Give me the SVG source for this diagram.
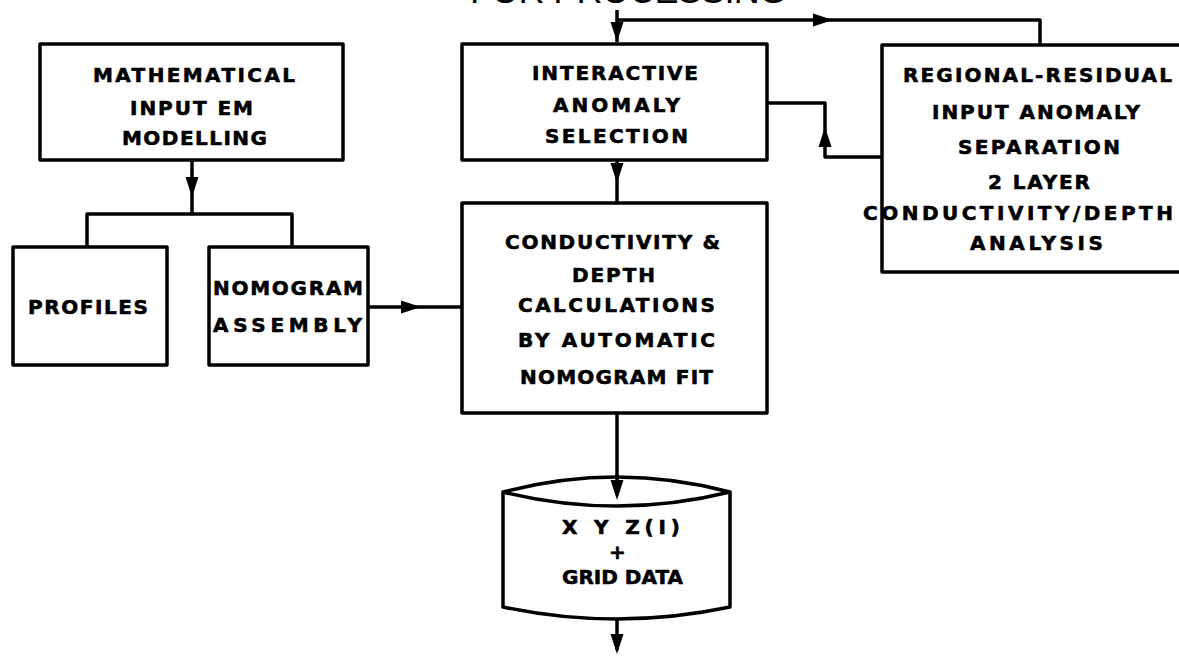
<svg xmlns="http://www.w3.org/2000/svg" width="1179" height="657" viewBox="0 0 1179 657">
  <style>
    .box { fill: #fff; stroke: #000; stroke-width: 3.5; stroke-linejoin: round; }
    .wire { fill: none; stroke: #000; stroke-width: 3.5; stroke-linejoin: round; stroke-linecap: butt; }
    .lbl { font-family: "DejaVu Sans", "Liberation Sans", sans-serif; font-weight: bold; font-size: 20px; fill: #000; stroke: #000; stroke-width: 0.6; }
    .head { font-family: "Liberation Sans", Arial, sans-serif; font-size: 36px; fill: #000; }
  </style>
  <defs>
    <!-- filled arrowhead, tip at origin, pointing down -->
    <path id="ah" d="M0,0 L-6.5,-20 L6.5,-20 Z" fill="#000"/>
  </defs>

  <rect width="1179" height="657" fill="#fff"/>

  <!-- heading, mostly above the top edge -->
  <text class="head" x="470" y="3" textLength="317" lengthAdjust="spacing">FOR PROCESSING</text>

  <g id="modelling">
    <rect class="box" x="40" y="44" width="303" height="116"/>
    <text class="lbl" x="93" y="82" textLength="202" lengthAdjust="spacing">MATHEMATICAL</text>
    <text class="lbl" x="130" y="115" textLength="123" lengthAdjust="spacing">INPUT EM</text>
    <text class="lbl" x="122" y="145" textLength="145" lengthAdjust="spacing">MODELLING</text>
  </g>

  <g id="profiles">
    <rect class="box" x="13" y="247" width="154" height="118"/>
    <text class="lbl" x="28" y="314" textLength="120" lengthAdjust="spacing">PROFILES</text>
  </g>

  <g id="nomogram">
    <rect class="box" x="209" y="247" width="159" height="118"/>
    <text class="lbl" x="213" y="295" textLength="150" lengthAdjust="spacing">NOMOGRAM</text>
    <text class="lbl" x="213" y="332" textLength="149" lengthAdjust="spacing">ASSEMBLY</text>
  </g>

  <g id="selection">
    <rect class="box" x="462" y="44" width="305" height="116"/>
    <text class="lbl" x="532" y="80" textLength="166" lengthAdjust="spacing">INTERACTIVE</text>
    <text class="lbl" x="553" y="112" textLength="127" lengthAdjust="spacing">ANOMALY</text>
    <text class="lbl" x="545" y="143" textLength="143" lengthAdjust="spacing">SELECTION</text>
  </g>

  <g id="separation">
    <rect class="box" x="882" y="45" width="320" height="227"/>
    <text class="lbl" x="903" y="82" textLength="269" lengthAdjust="spacing">REGIONAL-RESIDUAL</text>
    <text class="lbl" x="932" y="119" textLength="208" lengthAdjust="spacing">INPUT ANOMALY</text>
    <text class="lbl" x="958" y="154" textLength="162" lengthAdjust="spacing">SEPARATION</text>
    <text class="lbl" x="988" y="189" textLength="102" lengthAdjust="spacing">2 LAYER</text>
    <text class="lbl" x="863" y="220" textLength="310" lengthAdjust="spacing">CONDUCTIVITY/DEPTH</text>
    <text class="lbl" x="970" y="250" textLength="133" lengthAdjust="spacing">ANALYSIS</text>
  </g>

  <g id="calculation">
    <rect class="box" x="462" y="203" width="305" height="210"/>
    <text class="lbl" x="505" y="249" textLength="215" lengthAdjust="spacing">CONDUCTIVITY &amp;</text>
    <text class="lbl" x="572" y="282" textLength="83" lengthAdjust="spacing">DEPTH</text>
    <text class="lbl" x="518" y="312" textLength="197" lengthAdjust="spacing">CALCULATIONS</text>
    <text class="lbl" x="518" y="347" textLength="197" lengthAdjust="spacing">BY AUTOMATIC</text>
    <text class="lbl" x="520" y="384" textLength="193" lengthAdjust="spacing">NOMOGRAM FIT</text>
  </g>

  <g id="grid-data">
    <path class="box" d="M503,492 Q617,462 730,492 L730,607 Q617,631 503,607 Z"/>
    <path class="wire" d="M503,492 Q617,520 730,492"/>
    <text class="lbl" x="562" y="534" textLength="118" lengthAdjust="spacing">X Y Z(I)</text>
    <text class="lbl" x="609" y="559">+</text>
    <text class="lbl" x="562" y="584" textLength="121" lengthAdjust="spacing">GRID DATA</text>
  </g>

  <g id="connectors">
    <!-- modelling splits to profiles and nomogram -->
    <path class="wire" d="M192,160 L192,214 M87,247 L87,214 L292,214 L292,247"/>
    <use href="#ah" transform="translate(192,197)"/>
    <!-- nomogram to calculation -->
    <path class="wire" d="M368,307 L462,307"/>
    <use href="#ah" transform="translate(421,307) rotate(-90)"/>
    <!-- selection to calculation -->
    <path class="wire" d="M617,160 L617,203"/>
    <use href="#ah" transform="translate(617,183)"/>
    <!-- separation back to selection -->
    <path class="wire" d="M767,103 L825,103 L825,157 L882,157"/>
    <use href="#ah" transform="translate(825,127) rotate(180)"/>
    <!-- input from above, and loop to separation -->
    <path class="wire" d="M617,10 L617,42 M617,20 L1040,20 L1040,45"/>
    <use href="#ah" transform="translate(617,42)"/>
    <use href="#ah" transform="translate(833,20) rotate(-90)"/>
    <!-- calculation to grid data -->
    <path class="wire" d="M617,413 L617,495"/>
    <use href="#ah" transform="translate(617,500)"/>
    <!-- grid data output -->
    <path class="wire" d="M617,619 L617,650"/>
    <use href="#ah" transform="translate(617,654)"/>
  </g>
</svg>
